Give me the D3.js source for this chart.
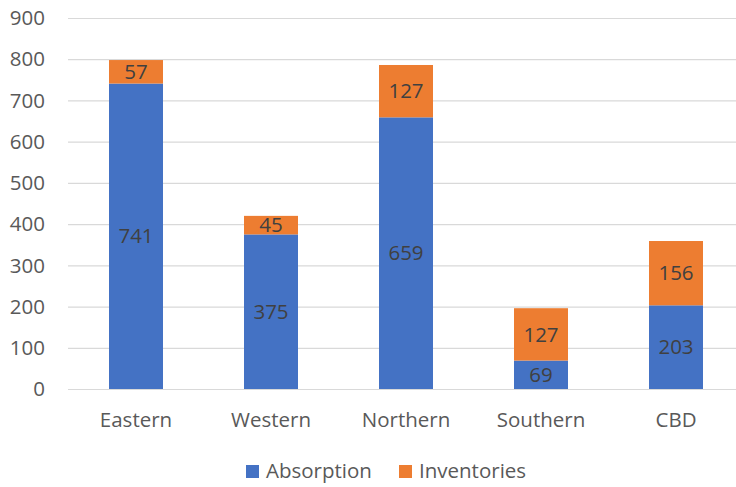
<!DOCTYPE html>
<html><head><meta charset="utf-8">
<script src="https://cdn.jsdelivr.net/npm/d3@7"></script>
<style>body{margin:0;background:#fff}svg{display:block}text{font-family:"Open Sans",sans-serif}</style>
</head><body>
<svg id="c" width="736" height="487"></svg>
<script>
const categories = ["Eastern","Western","Northern","Southern","CBD"];
const absorption = [741,375,659,69,203];
const inventories = [57,45,127,127,156];
const seriesNames = ["Absorption","Inventories"];
const colors = ["#4472C4","#ED7D31"];
const yTicks = [0,100,200,300,400,500,600,700,800,900];

const FS = 20.5;
const svg = d3.select("#c");
const x = d3.scaleBand().domain(categories).range([68.5,743.5]).paddingInner(0.6).paddingOuter(0.3);
const y = d3.scaleLinear().domain([0,900]).range([389,18]);

svg.append("g").selectAll("line").data(yTicks).join("line")
  .attr("x1",68).attr("x2",736).attr("y1",d=>y(d)+0.5).attr("y2",d=>y(d)+0.5)
  .attr("stroke","#d9d9d9").attr("stroke-width",1.2);

svg.append("g").selectAll("text").data(yTicks).join("text")
  .attr("x",45).attr("y",d=>y(d)).attr("dy","0.35em").attr("text-anchor","end")
  .attr("font-size",FS).attr("fill","#595959").text(d=>d);

const rows = categories.map((c,i)=>({cat:c, Absorption:absorption[i], Inventories:inventories[i]}));
const stacked = d3.stack().keys(seriesNames)(rows);

const g = svg.append("g");
stacked.forEach((s,si)=>{
  g.selectAll(null).data(s).join("rect")
    .attr("x",d=>x(d.data.cat)).attr("width",x.bandwidth())
    .attr("y",d=>y(d[1])).attr("height",d=>y(d[0])-y(d[1]))
    .attr("fill",colors[si]);
  g.selectAll(null).data(s).join("text")
    .attr("x",d=>x(d.data.cat)+x.bandwidth()/2)
    .attr("y",d=>(y(d[0])+y(d[1]))/2).attr("dy","0.35em")
    .attr("text-anchor","middle").attr("font-size",FS).attr("fill","#404040")
    .text(d=>d[1]-d[0]);
});

svg.append("g").selectAll("text").data(categories).join("text")
  .attr("x",d=>x(d)+x.bandwidth()/2).attr("y",420).attr("dy","0.35em")
  .attr("text-anchor","middle").attr("font-size",FS).attr("fill","#595959").text(d=>d);

const leg = svg.append("g");
const legX = [246,399];
seriesNames.forEach((n,i)=>{
  leg.append("rect").attr("x",legX[i]).attr("y",465).attr("width",13).attr("height",13).attr("fill",colors[i]);
  leg.append("text").attr("x",legX[i]+20).attr("y",471).attr("dy","0.35em")
    .attr("font-size",FS).attr("fill","#595959").text(n);
});
</script>
</body></html>
